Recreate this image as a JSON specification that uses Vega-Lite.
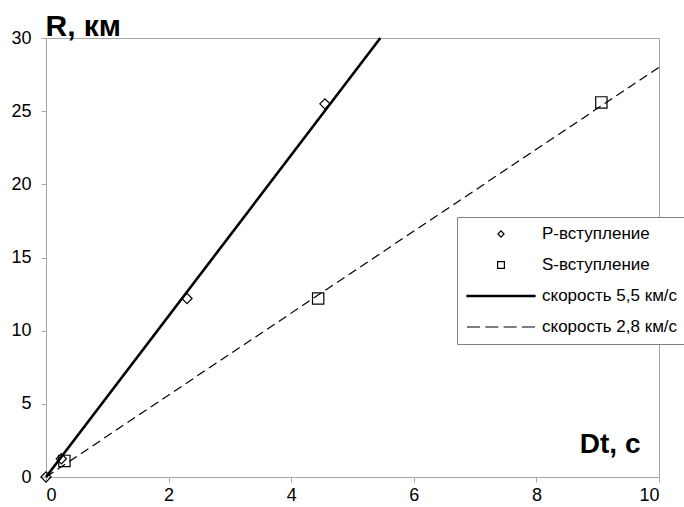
{
  "$schema": "https://vega.github.io/schema/vega-lite/v6.json",
  "autosize": "none",
  "width": 613,
  "height": 439,
  "padding": {"left": 46, "top": 38, "right": 25, "bottom": 30},
  "background": "white",
  "config": {
    "font": "Liberation Sans",
    "view": {"stroke": "#a6a6a6", "strokeWidth": 1},
    "axis": {
      "grid": false,
      "domainColor": "#a6a6a6",
      "tickColor": "#a6a6a6",
      "tickSize": 5,
      "labelFont": "Liberation Sans",
      "labelFontSize": 18,
      "labelColor": "black",
      "titleFont": "Liberation Sans",
      "titleFontWeight": "bold",
      "titleColor": "black"
    }
  },
  "datasets": {
    "points": [
      {"series": "Р-вступление", "t": 0, "R": 0},
      {"series": "Р-вступление", "t": 0.25, "R": 1.25},
      {"series": "Р-вступление", "t": 2.3, "R": 12.2},
      {"series": "Р-вступление", "t": 4.55, "R": 25.5},
      {"series": "S-вступление", "t": 0.3, "R": 1.1},
      {"series": "S-вступление", "t": 4.44, "R": 12.2},
      {"series": "S-вступление", "t": 9.06, "R": 25.6}
    ],
    "lines": [
      {"series": "скорость 5,5 км/с", "t": 0, "R": 0},
      {"series": "скорость 5,5 км/с", "t": 5.4545, "R": 30},
      {"series": "скорость 2,8 км/с", "t": 0, "R": 0},
      {"series": "скорость 2,8 км/с", "t": 10, "R": 28}
    ]
  },
  "encoding": {
    "x": {
      "field": "t",
      "type": "quantitative",
      "scale": {"domain": [0, 10], "nice": false},
      "axis": {
        "values": [0, 2, 4, 6, 8, 10],
        "labelPadding": 4,
        "title": "Dt, с",
        "titleFontSize": 28,
        "titleAlign": "right",
        "titleBaseline": "alphabetic",
        "titleX": 594,
        "titleY": -25
      }
    },
    "y": {
      "field": "R",
      "type": "quantitative",
      "scale": {"domain": [0, 30], "nice": false},
      "axis": {
        "values": [0, 5, 10, 15, 20, 25, 30],
        "labelPadding": 10,
        "title": "R, км",
        "titleFontSize": 30,
        "titleAngle": 0,
        "titleAlign": "left",
        "titleBaseline": "alphabetic",
        "titleX": -1,
        "titleY": -3
      }
    }
  },
  "layer": [
    {
      "data": {"name": "lines"},
      "transform": [{"filter": "datum.series === 'скорость 5,5 км/с'"}],
      "mark": {"type": "line", "color": "black", "strokeWidth": 2.6},
      "encoding": {}
    },
    {
      "data": {"name": "lines"},
      "transform": [{"filter": "datum.series === 'скорость 2,8 км/с'"}],
      "mark": {"type": "line", "color": "black", "strokeWidth": 1.2, "strokeDash": [9, 5]},
      "encoding": {}
    },
    {
      "data": {"name": "points"},
      "mark": {"type": "point", "filled": false, "color": "black", "strokeWidth": 1.2, "size": 12800, "opacity": 1},
      "encoding": {
        "shape": {
          "field": "series",
          "type": "nominal",
          "scale": {
            "domain": ["Р-вступление", "S-вступление", "скорость 5,5 км/с", "скорость 2,8 км/с"],
            "range": [
              "M-0.09,0L0,-0.09L0.09,0L0,0.09Z",
              "M-0.1,-0.1H0.1V0.1H-0.1Z",
              "M-1,-0.02H1V0.02H-1Z",
              "M-1,0H-0.615M-0.462,0H-0.077M0.077,0H0.462M0.615,0H1"
            ]
          },
          "legend": {
            "title": null,
            "orient": "none",
            "legendX": 411,
            "legendY": 179,
            "fillColor": "white",
            "strokeColor": "#808080",
            "padding": 9,
            "symbolSize": 4624,
            "symbolStrokeWidth": 1.2,
            "symbolStrokeColor": "black",
            "symbolFillColor": "transparent",
            "symbolOpacity": 1,
            "symbolOffset": 0,
            "clipHeight": 16,
            "rowPadding": 14,
            "labelOffset": 6,
            "labelFont": "Liberation Sans",
            "labelFontSize": 17,
            "labelColor": "black",
            "labelLimit": 300
          }
        }
      }
    }
  ]
}
